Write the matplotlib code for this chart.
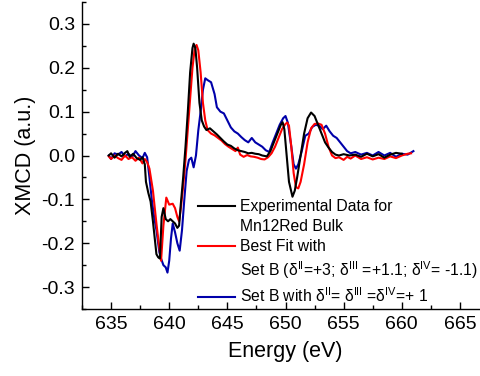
import matplotlib
matplotlib.use("Agg")
import matplotlib.pyplot as plt
from matplotlib.lines import Line2D
from matplotlib.ticker import MultipleLocator

plt.rcParams['font.family'] = ['Liberation Sans', 'DejaVu Sans']
plt.rcParams['mathtext.fontset'] = 'custom'
plt.rcParams['mathtext.rm'] = 'Liberation Sans'
plt.rcParams['mathtext.it'] = 'Liberation Sans'
plt.rcParams['mathtext.default'] = 'regular'

# Experimental XMCD spectrum (Mn L3/L2 region)
exp_energy = [634.8, 635.0, 635.3, 635.6, 635.9, 636.2, 636.4, 636.6, 636.9, 637.2,
              637.5, 637.7, 637.9, 638.0, 638.2, 638.4, 638.6, 638.9, 639.05, 639.2,
              639.35, 639.5, 639.7, 639.9, 640.1, 640.3, 640.5, 640.7, 640.85, 641.0,
              641.2, 641.4, 641.6, 641.8, 642.0, 642.1, 642.25, 642.4, 642.6, 642.8,
              643.0, 643.2, 643.5, 643.8, 644.1, 644.4, 644.7, 645.0, 645.3, 645.6,
              645.9, 646.2, 646.5, 646.8, 647.1, 647.4, 647.7, 648.0, 648.4, 648.7,
              649.0, 649.3, 649.6, 649.75, 649.9, 650.1, 650.3, 650.6, 650.8, 651.0,
              651.3, 651.6, 651.9, 652.2, 652.5, 652.8, 653.1, 653.4, 653.7, 654.0,
              654.3, 654.6, 655.0, 655.5, 656.0, 656.5, 657.0, 657.5, 658.0, 658.5,
              659.0, 659.5, 660.0]
exp_xmcd = [0.000, 0.005, -0.005, 0.004, -0.002, 0.006, 0.010, -0.003, 0.004, -0.006,
            -0.010, -0.004, -0.020, -0.060, -0.085, -0.105, -0.150, -0.225, -0.232, -0.235,
            -0.140, -0.120, -0.145, -0.150, -0.145, -0.150, -0.155, -0.165, -0.160, -0.110,
            -0.050, 0.020, 0.100, 0.190, 0.245, 0.255, 0.245, 0.200, 0.120, 0.080,
            0.066, 0.058, 0.062, 0.055, 0.048, 0.040, 0.032, 0.025, 0.022, 0.016,
            0.012, 0.010, 0.008, 0.005, 0.006, 0.004, 0.003, 0.000, -0.002, 0.010,
            0.030, 0.050, 0.070, 0.076, 0.060, 0.000, -0.060, -0.094, -0.080, -0.050,
            0.000, 0.050, 0.085, 0.098, 0.090, 0.070, 0.050, 0.030, 0.018, 0.008,
            0.002, 0.000, 0.003, 0.000, 0.002, -0.003, 0.004, -0.002, 0.003, -0.005,
            0.002, 0.006, 0.004]

# Best-fit simulation, parameter set B
fit_energy = [634.8, 635.0, 635.3, 635.6, 635.9, 636.2, 636.5, 636.8, 637.1, 637.4,
              637.7, 637.9, 638.1, 638.3, 638.6, 638.9, 639.1, 639.3, 639.5, 639.75,
              640.0, 640.3, 640.5, 640.7, 640.85, 641.0, 641.2, 641.4, 641.6, 641.8,
              642.0, 642.2, 642.35, 642.5, 642.7, 642.9, 643.1, 643.3, 643.6, 643.9,
              644.2, 644.5, 644.8, 645.1, 645.4, 645.7, 645.9, 646.1, 646.4, 646.7,
              647.0, 647.3, 647.6, 647.9, 648.2, 648.5, 648.8, 649.1, 649.4, 649.7,
              650.0, 650.15, 650.3, 650.5, 650.7, 650.9, 651.1, 651.3, 651.6, 651.9,
              652.2, 652.5, 652.8, 653.1, 653.4, 653.7, 654.0, 654.3, 654.6, 655.0,
              655.3, 655.6, 656.0, 656.5, 657.0, 657.5, 658.0, 658.5, 659.0, 659.5,
              660.0, 660.5, 660.8]
fit_xmcd = [-0.002, -0.008, 0.000, -0.006, -0.010, 0.000, -0.008, -0.004, -0.012, -0.005,
            -0.018, -0.008, -0.015, -0.030, -0.080, -0.155, -0.200, -0.240, -0.160, -0.096,
            -0.112, -0.110, -0.120, -0.140, -0.150, -0.120, -0.070, -0.010, 0.060, 0.130,
            0.200, 0.245, 0.252, 0.240, 0.190, 0.120, 0.080, 0.058, 0.050, 0.046,
            0.040, 0.034, 0.026, 0.020, 0.015, 0.010, 0.018, 0.002, -0.003, 0.001,
            -0.002, -0.003, -0.005, -0.008, -0.009, -0.004, 0.005, 0.020, 0.040, 0.060,
            0.072, 0.075, 0.068, 0.020, -0.040, -0.072, -0.075, -0.060, -0.020, 0.030,
            0.062, 0.072, 0.073, 0.070, 0.050, 0.020, 0.000, -0.006, -0.004, -0.010,
            -0.003, -0.007, 0.000, -0.008, -0.004, -0.009, -0.005, -0.008, -0.002, -0.006,
            0.000, 0.004, 0.005]

# Set B with equal delta values
eq_energy = [634.8, 635.0, 635.3, 635.6, 635.9, 636.2, 636.5, 636.8, 637.1, 637.4,
             637.7, 637.9, 638.1, 638.3, 638.5, 638.7, 638.9, 639.15, 639.3, 639.5,
             639.7, 639.85, 640.0, 640.15, 640.3, 640.5, 640.7, 640.9, 641.1, 641.3,
             641.5, 641.7, 641.9, 642.1, 642.3, 642.5, 642.7, 642.9, 643.1, 643.3,
             643.6, 643.9, 644.1, 644.4, 644.7, 645.0, 645.3, 645.6, 645.9, 646.2,
             646.5, 646.8, 647.1, 647.4, 647.7, 648.0, 648.3, 648.6, 648.9, 649.2,
             649.5, 649.8, 650.0, 650.2, 650.5, 650.7, 650.9, 651.1, 651.4, 651.7,
             652.0, 652.3, 652.6, 652.9, 653.2, 653.5, 653.8, 654.1, 654.4, 654.7,
             655.0, 655.3, 655.6, 656.0, 656.5, 657.0, 657.5, 658.0, 658.5, 659.0,
             659.5, 660.0, 660.5, 661.0]
eq_xmcd = [0.000, -0.008, 0.005, 0.002, 0.008, -0.002, 0.004, -0.004, 0.010, 0.000,
           -0.006, 0.006, -0.004, -0.050, -0.100, -0.140, -0.170, -0.220, -0.235, -0.250,
           -0.255, -0.267, -0.240, -0.190, -0.155, -0.175, -0.200, -0.217, -0.170, -0.100,
           -0.035, -0.010, -0.005, -0.027, 0.000, 0.057, 0.100, 0.150, 0.176, 0.172,
           0.167, 0.140, 0.110, 0.100, 0.096, 0.080, 0.064, 0.055, 0.050, 0.042,
           0.035, 0.030, 0.040, 0.030, 0.025, 0.020, 0.012, 0.008, 0.030, 0.050,
           0.070, 0.085, 0.090, 0.075, 0.020, -0.020, -0.030, -0.020, 0.010, 0.045,
           0.050, 0.065, 0.070, 0.068, 0.060, 0.068, 0.055, 0.045, 0.040, 0.030,
           0.020, 0.010, 0.005, 0.008, 0.002, 0.006, 0.000, 0.008, 0.000, 0.006,
           -0.003, 0.004, 0.002, 0.010]

legend_labels = [
    "Experimental Data for",
    "Mn12Red Bulk",
    "Best Fit with",
    "Set B (δ$^{II}$=+3; δ$^{III}$ =+1.1; δ$^{IV}$= -1.1)",
    "Set B with δ$^{II}$= δ$^{III}$ =δ$^{IV}$=+ 1",
]

colors = {"exp": "black", "fit": "#ff0000", "eq": "#0000aa"}

fig = plt.figure(figsize=(4.81, 3.76), dpi=100)
ax = fig.add_axes([82 / 481, 1 - 309 / 376, 407 / 481, 307 / 376])

lw = 1.5
ax.plot(exp_energy, exp_xmcd, color=colors["exp"], lw=lw, zorder=3)
ax.plot(fit_energy, fit_xmcd, color=colors["fit"], lw=lw, zorder=2)
ax.plot(eq_energy, eq_xmcd, color=colors["eq"], lw=lw, zorder=1)

ax.set_xlim(632.5, 667.5)
ax.set_ylim(-0.35, 0.35)
ax.xaxis.set_minor_locator(MultipleLocator(2.5))
ax.yaxis.set_minor_locator(MultipleLocator(0.05))
ax.set_yticks([-0.3, -0.2, -0.1, 0.0, 0.1, 0.2, 0.3])
ax.set_yticklabels(["-0.3", "-0.2", "-0.1", "0.0", "0.1", "0.2", "0.3"])
ax.set_xticks([635, 640, 645, 650, 655, 660, 665])

for s in ("top", "right"):
    ax.spines[s].set_visible(False)
for s in ("left", "bottom"):
    ax.spines[s].set_linewidth(1.0)

ax.tick_params(which="major", direction="in", length=5, width=1.0, labelsize=14, pad=5)
ax.tick_params(which="minor", direction="in", length=3, width=1.0)

ax.set_xlabel("Energy (eV)", fontsize=15.5, labelpad=6)
ax.set_ylabel("XMCD (a.u.)", fontsize=15.5, labelpad=4)

handles = [
    Line2D([], [], color=colors["exp"], lw=lw),
    Line2D([], [], color="none", lw=lw),
    Line2D([], [], color=colors["fit"], lw=lw),
    Line2D([], [], color="none", lw=lw),
    Line2D([], [], color=colors["eq"], lw=lw),
]
fig.legend(handles, legend_labels, loc="upper left",
           bbox_to_anchor=(198 / 481, 1 - 199 / 376), bbox_transform=fig.transFigure,
           frameon=False, fontsize=11.3, handlelength=2.35, handletextpad=0.35,
           labelspacing=0.33, borderpad=0, borderaxespad=0)

fig.savefig("out.png", dpi=100)
